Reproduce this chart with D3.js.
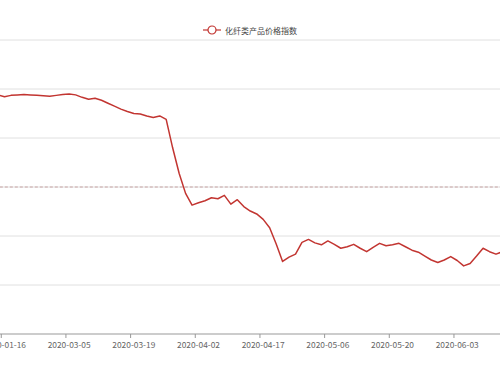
<!DOCTYPE html>
<html>
<head>
<meta charset="utf-8">
<script src="https://cdn.jsdelivr.net/npm/d3@7"></script>
<style>
  body { margin: 0; background: #fff; }
  svg { display: block; font-family: "Noto Sans CJK SC", "Noto Sans", sans-serif; }
</style>
</head>
<body>
<svg></svg>
<script>
const width = 500;
const height = 375;

// dates (category axis, one per trading day)
const dates = [
  "2020-01-15", "2020-01-16", "2020-01-17", "2020-01-20", "2020-01-21", "2020-01-22", "2020-01-23",
  "2020-02-28", "2020-03-02", "2020-03-03", "2020-03-04", "2020-03-05", "2020-03-06",
  "2020-03-09", "2020-03-10", "2020-03-11", "2020-03-12", "2020-03-13", "2020-03-16",
  "2020-03-17", "2020-03-18", "2020-03-19", "2020-03-20", "2020-03-23", "2020-03-24",
  "2020-03-25", "2020-03-26", "2020-03-27", "2020-03-30", "2020-03-31", "2020-04-01",
  "2020-04-02", "2020-04-03", "2020-04-07", "2020-04-08", "2020-04-09", "2020-04-10",
  "2020-04-13", "2020-04-14", "2020-04-15", "2020-04-16", "2020-04-17", "2020-04-20",
  "2020-04-21", "2020-04-22", "2020-04-23", "2020-04-24", "2020-04-27", "2020-04-28",
  "2020-04-29", "2020-04-30", "2020-05-06", "2020-05-07", "2020-05-08", "2020-05-11",
  "2020-05-12", "2020-05-13", "2020-05-14", "2020-05-15", "2020-05-18", "2020-05-19",
  "2020-05-20", "2020-05-21", "2020-05-22", "2020-05-25", "2020-05-26", "2020-05-27",
  "2020-05-28", "2020-05-29", "2020-06-01", "2020-06-02", "2020-06-03", "2020-06-04",
  "2020-06-05", "2020-06-08", "2020-06-09", "2020-06-10", "2020-06-11", "2020-06-12",
  "2020-06-15", "2020-06-16", "2020-06-17"
];

// 化纤类产品价格指数
const values = [
  88.8, 88.4, 88.7, 88.8, 88.9, 88.8, 88.7, 88.6, 88.5, 88.7, 88.9,
  89.0, 88.8, 88.3, 87.9, 88.1, 87.7, 87.1, 86.5, 85.9, 85.4,
  85.0, 84.9, 84.5, 84.2, 84.5, 83.8, 78.0, 72.8, 68.7, 66.3,
  66.8, 67.2, 67.8, 67.6, 68.3, 66.5, 67.4, 66.0, 65.1, 64.5,
  63.4, 61.7, 58.4, 54.8, 55.7, 56.3, 58.7, 59.3, 58.6, 58.2,
  59.0, 58.3, 57.5, 57.8, 58.3, 57.5, 56.8, 57.7, 58.5, 58.0,
  58.2, 58.5, 57.8, 57.1, 56.7, 55.9, 55.1, 54.6, 55.1, 55.8,
  55.0, 53.9, 54.4, 55.9, 57.5, 56.8, 56.3, 56.8
];

const yTicks = [40, 50, 60, 70, 80, 90, 100];
const refValue = 70;
const labelEvery = 10;
const seriesName = "化纤类产品价格指数";
const color = "#c23531";

const svg = d3.select("svg")
  .attr("width", width)
  .attr("height", height);

// plot area is wider than the window: left part and right end are cut off
const x = d3.scaleBand()
  .domain(dates)
  .range([-5.2, -5.2 + dates.length * 6.467])
  .padding(0);

const y = d3.scaleLinear()
  .domain([40, 100])
  .range([334, 40]);

const xLeft = x.range()[0];
const xRight = x.range()[1];

// grid
svg.append("g")
  .selectAll("line")
  .data(yTicks.slice(1))
  .join("line")
  .attr("x1", xLeft)
  .attr("x2", xRight)
  .attr("y1", d => y(d))
  .attr("y2", d => y(d))
  .attr("stroke", "#e0e0e0")
  .attr("stroke-width", 1);

// x axis (labels centred on band, ticks on band boundary)
const labelled = dates.filter((d, i) => (i - 1) % labelEvery === 0 && i >= 1);

const xAxis = svg.append("g");
xAxis.append("line")
  .attr("x1", xLeft)
  .attr("x2", xRight)
  .attr("y1", y(40))
  .attr("y2", y(40))
  .attr("stroke", "#999");

xAxis.selectAll(".tick")
  .data(labelled)
  .join("line")
  .attr("x1", d => x(d))
  .attr("x2", d => x(d))
  .attr("y1", y(40))
  .attr("y2", y(40) + 4)
  .attr("stroke", "#999");

xAxis.selectAll("text")
  .data(labelled)
  .join("text")
  .attr("x", d => x(d) + x.bandwidth() / 2)
  .attr("y", y(40) + 9.5)
  .attr("text-anchor", "middle")
  .attr("dominant-baseline", "central")
  .attr("font-size", 8.4)
  .attr("fill", "#666")
  .text(d => d);

// y axis labels (off to the left, outside the window)
svg.append("g")
  .selectAll("text")
  .data(yTicks)
  .join("text")
  .attr("x", xLeft - 8)
  .attr("y", d => y(d))
  .attr("text-anchor", "end")
  .attr("dominant-baseline", "central")
  .attr("font-size", 8.4)
  .attr("fill", "#666")
  .text(d => d);

// reference line
svg.append("line")
  .attr("x1", xLeft)
  .attr("x2", xRight)
  .attr("y1", y(refValue))
  .attr("y2", y(refValue))
  .attr("stroke", "#c8a3a3")
  .attr("stroke-width", 1.2)
  .attr("stroke-dasharray", "3,2");

// series line
const line = d3.line()
  .x((d, i) => x(dates[i]) + x.bandwidth() / 2)
  .y(d => y(d));

svg.append("path")
  .datum(values)
  .attr("d", line)
  .attr("fill", "none")
  .attr("stroke", color)
  .attr("stroke-width", 1.5)
  .attr("stroke-linejoin", "round");

// legend
const legend = svg.append("g").attr("transform", "translate(203,30)");
legend.append("line")
  .attr("x1", 0).attr("x2", 18)
  .attr("stroke", color).attr("stroke-width", 1.2);
legend.append("circle")
  .attr("cx", 9).attr("r", 4)
  .attr("fill", "#fff").attr("stroke", color).attr("stroke-width", 1.2);
legend.append("text")
  .attr("x", 22)
  .attr("dominant-baseline", "central")
  .attr("font-size", 8)
  .attr("fill", "#444")
  .text(seriesName);
</script>
</body>
</html>
